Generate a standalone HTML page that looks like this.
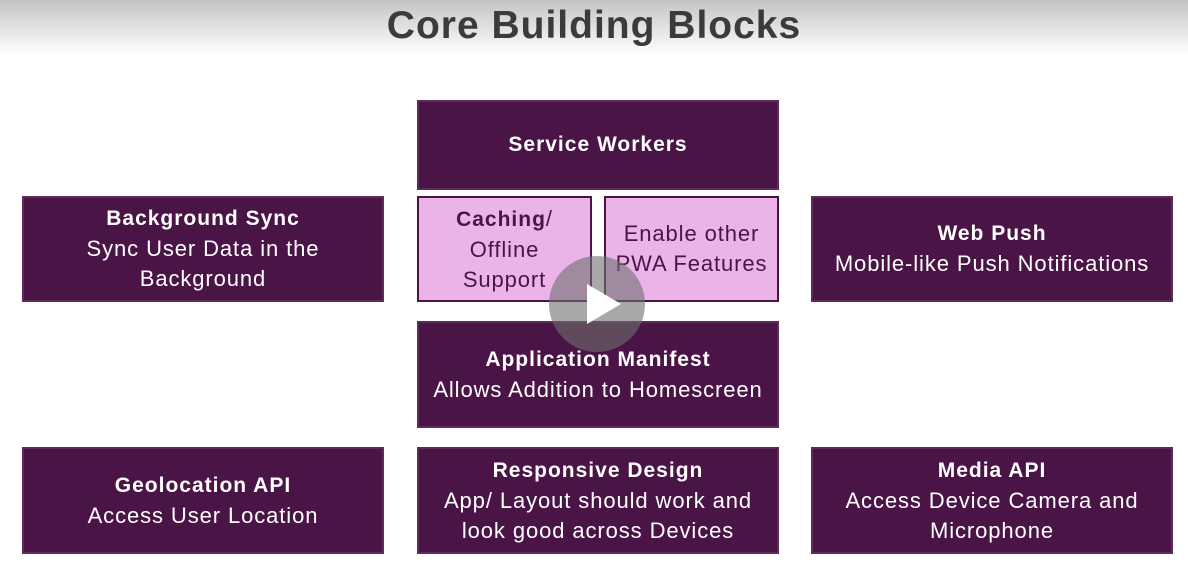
<!DOCTYPE html>
<html><head><style>
body{margin:0;width:1188px;height:567px;background:#fff;position:relative;overflow:hidden;font-family:"Liberation Sans",sans-serif}
.hdr{position:absolute;left:0;top:0;width:1188px;height:55px;background:linear-gradient(#c4c4c6,#fff)}
h1{position:absolute;left:0;width:1188px;top:4px;margin:0;text-align:center;font-size:39px;font-weight:bold;color:#3b3b3d;letter-spacing:1px}
.b{position:absolute;box-sizing:border-box;background:#4a1446;border:2px solid #5e2a58;color:#fff;display:flex;flex-direction:column;justify-content:center;align-items:center;text-align:center;font-size:22px;line-height:30px;letter-spacing:0.9px;white-space:nowrap}
.b b{font-size:21px;letter-spacing:1px}
.l{background:#ecb3e9;border:2px solid #4a1446;color:#4a1446}
.play{position:absolute;left:549px;top:256px;width:96px;height:96px;border-radius:50%;background:rgba(110,110,110,0.6)}
.play:after{content:"";position:absolute;left:38px;top:28px;border-left:34px solid #fff;border-top:20px solid transparent;border-bottom:20px solid transparent}
</style></head><body>
<div class="hdr"></div>
<h1>Core Building Blocks</h1>
<div class="b" style="left:417px;top:100px;width:362px;height:90px"><b>Service Workers</b></div>
<div class="b" style="left:22px;top:196px;width:362px;height:106px"><b>Background Sync</b><span>Sync User Data in the<br>Background</span></div>
<div class="b l" style="left:417px;top:196px;width:175px;height:106px"><span><b>Caching</b>/<br>Offline<br>Support</span></div>
<div class="b l" style="left:604px;top:196px;width:175px;height:106px"><span>Enable other<br>PWA Features</span></div>
<div class="b" style="left:811px;top:196px;width:362px;height:106px"><b>Web Push</b><span>Mobile-like Push Notifications</span></div>
<div class="b" style="left:417px;top:321px;width:362px;height:107px"><b>Application Manifest</b><span>Allows Addition to Homescreen</span></div>
<div class="b" style="left:22px;top:447px;width:362px;height:107px"><b>Geolocation API</b><span>Access User Location</span></div>
<div class="b" style="left:417px;top:447px;width:362px;height:107px"><b>Responsive Design</b><span>App/ Layout should work and<br>look good across Devices</span></div>
<div class="b" style="left:811px;top:447px;width:362px;height:107px"><b>Media API</b><span>Access Device Camera and<br>Microphone</span></div>
<div class="play"></div>
</body></html>
